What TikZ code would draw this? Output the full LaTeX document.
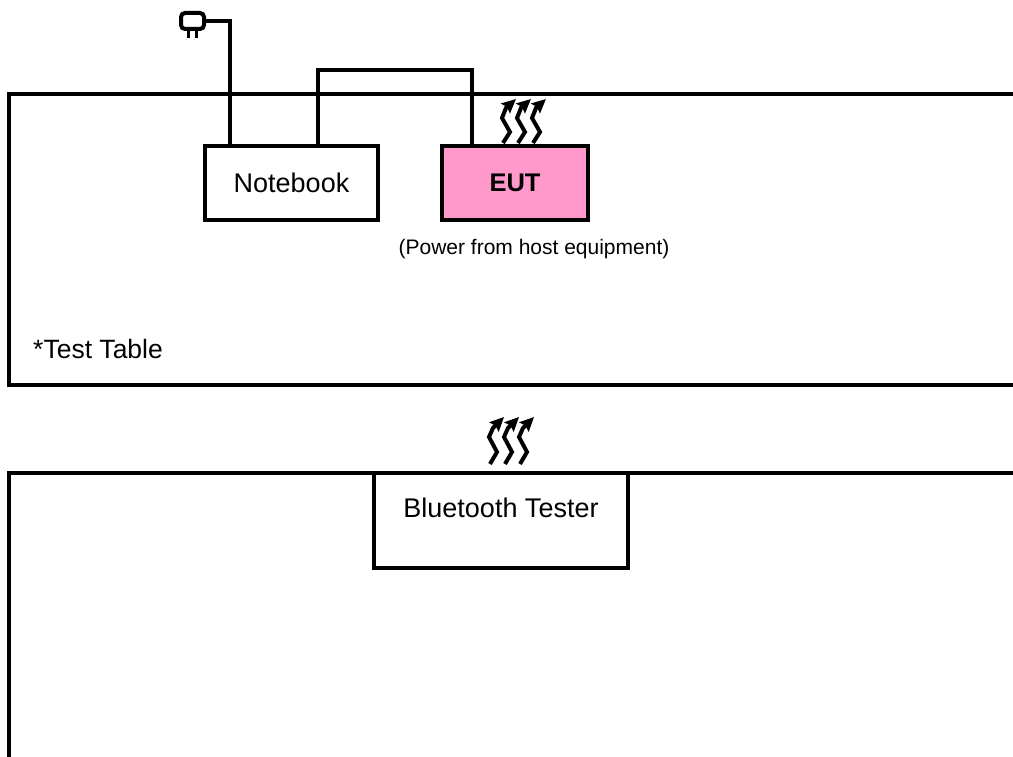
\documentclass[tikz,border=0pt]{standalone}
\usepackage{xcolor}
\usepackage{fontspec}
\setmainfont{Liberation Sans}
\usetikzlibrary{arrows.meta, positioning}
\definecolor{eutpink}{HTML}{FF99CC}

\begin{document}
\begin{tikzpicture}[
    x=1pt, y=-1pt,
    node distance=64pt and 64pt,
    block/.style={rectangle, draw, line width=4pt, outer sep=0pt, text centered, font=\fontsize{27}{30}\selectfont},
    tag/.style={inner sep=0pt, font=\fontsize{26.5}{30}\selectfont},
    frame/.style={draw, line width=4pt},
    line/.style={draw, line width=4pt},
    wave/.style={line width=4pt, -{Stealth[length=14pt, width=13pt, inset=2pt]}, miter limit=6}
]
    \useasboundingbox (0,0) rectangle (1013,757);

    % Frames - test table and lower table
    \draw [frame] (1013,94) -- (9,94) -- (9,385) -- (1013,385);
    \draw [frame] (1013,473) -- (9,473) -- (9,757);

    % Nodes
    \node [block, minimum width=173pt, minimum height=74pt] (notebook) at (291.5,183) {Notebook};
    \node [block, right=64pt of notebook, fill=eutpink, minimum width=146pt, minimum height=74pt, font=\fontsize{25.5}{30}\selectfont] (eut) {\textbf{EUT}};
    \node [tag, font=\fontsize{21}{24}\selectfont] (power) at (534,249.5) {(Power from host equipment)};
    \node [tag, anchor=west] (table) at (33,349.5) {*Test Table};
    \node [block, minimum width=254pt, minimum height=95pt, text depth=25pt, text height=18pt] (tester) at (501,520.5) {Bluetooth Tester};

    % Plug
    \node [draw, line width=4pt, rounded corners=4pt, outer sep=0pt, minimum width=23pt, minimum height=16pt, inner sep=0pt] (plug) at (192.5,21) {};
    \draw [line width=3.5pt] ([xshift=-4pt]plug.south) -- ++(0,9);
    \draw [line width=3.5pt] ([xshift=4pt]plug.south) -- ++(0,9);

    % Paths
    \draw [line] (plug.east) -| ([xshift=-61.5pt]notebook.north);
    \draw [line] ([xshift=26.5pt]notebook.north) |- (402,70) -| ([xshift=-43pt]eut.north);

    % Radio waves
    \foreach \i in {0,15,30} {
        \draw [wave] (503+\i,143) -- (510+\i,132) -- (502+\i,118) -- (506+\i,108) -- (516+\i,99);
        \draw [wave] (490+\i,464) -- (497+\i,452) -- (489+\i,437) -- (493+\i,428) -- (504+\i,417);
    }
\end{tikzpicture}
\end{document}
